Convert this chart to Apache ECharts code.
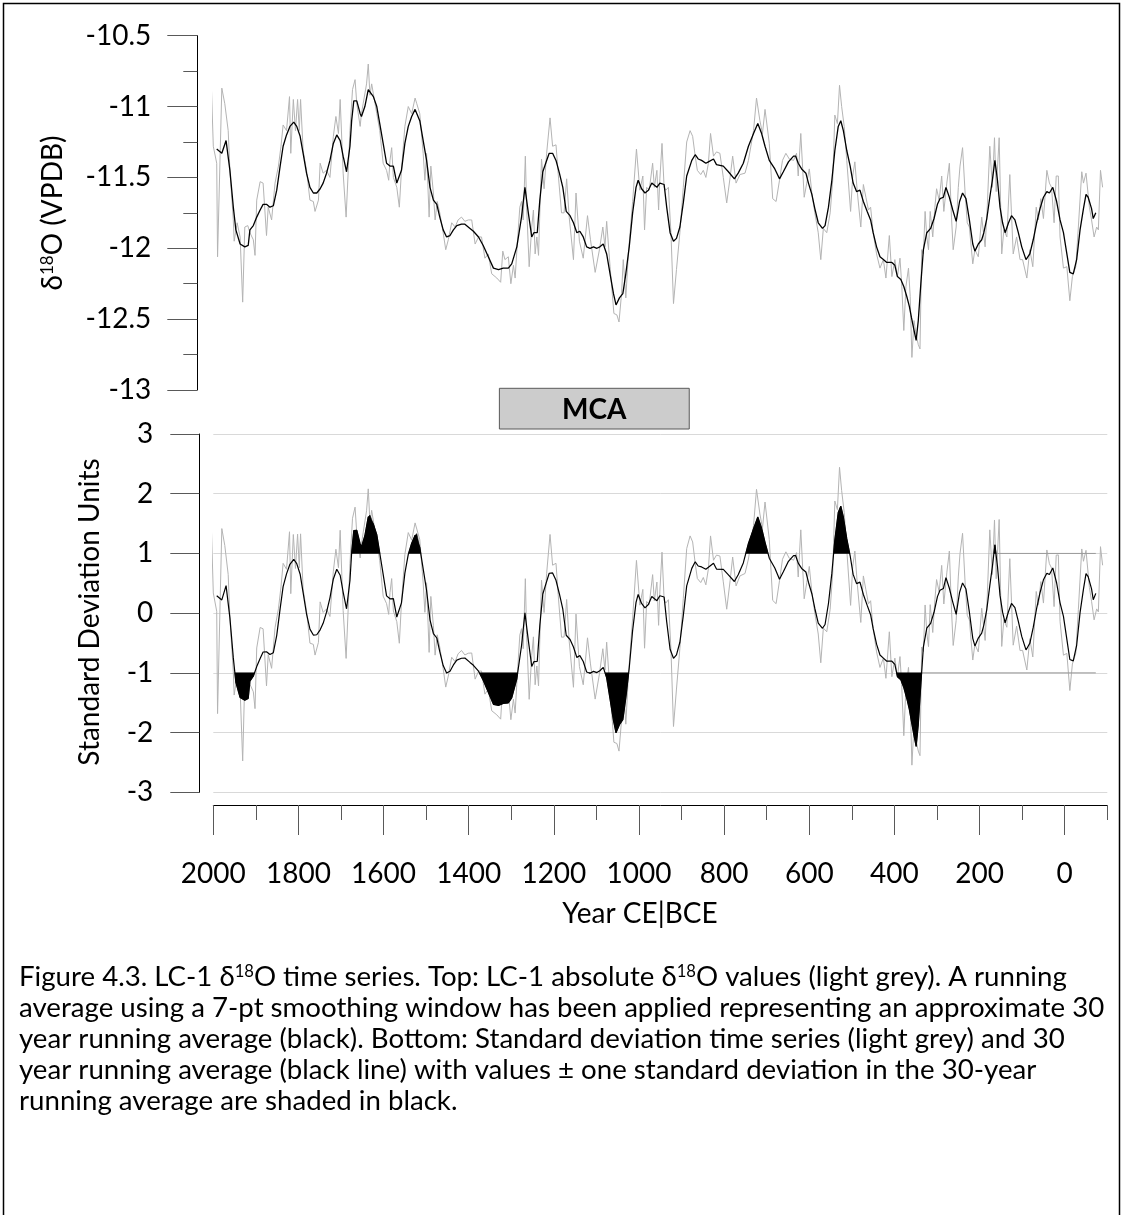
<!DOCTYPE html>
<html>
<head>
<meta charset="utf-8">
<title>LC-1 δ18O time series</title>
<script src="https://cdn.jsdelivr.net/npm/echarts@6/dist/echarts.min.js"></script>
<style>
  html, body { margin: 0; padding: 0; background: #fff; }
  #chart { width: 1123px; height: 1215px; }
</style>
</head>
<body>
<div id="chart"></div>
<script>
// 30-year running average of LC-1 δ18O (‰ VPDB), by year CE (negative = BCE)
const smoothYears = [
  1992,1980,1970,1961,1953,1947,1937,1926,1918,1914,
  1906,1898,1890,1883,1875,1867,1859,1851,1843,1836,
  1828,1820,1811,1804,1796,1789,1781,1773,1765,1757,
  1749,1742,1734,1726,1718,1710,1702,1695,1687,1679,
  1675,1670,1663,1655,1652,1644,1636,1632,1624,1616,
  1609,1601,1593,1585,1577,1569,1565,1558,1550,1542,
  1534,1526,1522,1515,1507,1499,1491,1483,1475,1468,
  1460,1452,1444,1436,1428,1417,1409,1397,1389,1377,
  1366,1354,1342,1330,1319,1307,1299,1287,1276,1268,
  1260,1252,1247,1239,1233,1226,1218,1211,1203,1195,
  1187,1179,1171,1162,1154,1146,1139,1131,1123,1115,
  1107,1099,1092,1084,1076,1068,1060,1054,1046,1038,
  1031,1023,1015,1007,1002,994,986,978,970,958,
  951,941,935,927,919,912,904,896,888,876,
  868,861,853,843,837,825,818,802,790,776,
  767,755,743,731,721,712,704,694,681,670,
  661,649,637,632,626,618,608,602,594,587,
  579,569,563,555,547,540,532,526,520,512,
  504,497,489,481,473,464,456,450,442,434,
  426,418,406,399,393,385,378,371,365,360,
  356,349,344,338,332,324,315,307,299,293,
  285,279,271,263,255,247,240,232,224,216,
  211,203,195,190,183,176,170,164,158,152,
  146,140,132,125,117,109,101,91,82,74,
  66,58,50,42,36,28,19,11,3,-5,
  -12,-20,-28,-36,-44,-50,-55,-63,-67,-73
];
const smoothValues = [
  -11.30,-11.33,-11.24,-11.45,-11.71,-11.87,-11.97,-11.99,-11.98,-11.87,
  -11.84,-11.78,-11.73,-11.69,-11.69,-11.71,-11.70,-11.59,-11.42,-11.28,
  -11.20,-11.14,-11.11,-11.14,-11.21,-11.33,-11.47,-11.57,-11.61,-11.61,
  -11.58,-11.54,-11.47,-11.38,-11.26,-11.20,-11.24,-11.35,-11.46,-11.28,
  -11.10,-10.96,-10.96,-11.05,-11.07,-11.00,-10.88,-10.87,-10.93,-11.00,
  -11.12,-11.26,-11.40,-11.42,-11.42,-11.54,-11.55,-11.45,-11.26,-11.14,
  -11.07,-11.02,-11.01,-11.10,-11.24,-11.38,-11.57,-11.66,-11.69,-11.78,
  -11.87,-11.92,-11.91,-11.87,-11.84,-11.83,-11.83,-11.86,-11.88,-11.92,
  -11.98,-12.06,-12.14,-12.15,-12.14,-12.14,-12.11,-11.99,-11.78,-11.57,
  -11.75,-11.92,-11.89,-11.89,-11.66,-11.46,-11.39,-11.33,-11.33,-11.38,
  -11.47,-11.57,-11.74,-11.77,-11.82,-11.89,-11.88,-11.92,-11.99,-12.00,
  -11.99,-12.00,-11.99,-11.97,-12.04,-12.18,-12.32,-12.40,-12.35,-12.32,
  -12.18,-11.99,-11.75,-11.57,-11.52,-11.58,-11.61,-11.59,-11.54,-11.57,
  -11.54,-11.55,-11.71,-11.89,-11.95,-11.93,-11.85,-11.68,-11.49,-11.38,
  -11.34,-11.37,-11.38,-11.40,-11.39,-11.37,-11.41,-11.42,-11.46,-11.51,
  -11.47,-11.40,-11.28,-11.19,-11.12,-11.19,-11.28,-11.38,-11.44,-11.51,
  -11.46,-11.39,-11.35,-11.35,-11.40,-11.44,-11.47,-11.54,-11.62,-11.72,
  -11.82,-11.86,-11.84,-11.71,-11.52,-11.31,-11.14,-11.10,-11.17,-11.31,
  -11.42,-11.54,-11.60,-11.59,-11.67,-11.74,-11.80,-11.89,-11.99,-12.06,
  -12.08,-12.10,-12.10,-12.12,-12.20,-12.22,-12.27,-12.34,-12.41,-12.49,
  -12.55,-12.65,-12.51,-12.25,-12.01,-11.89,-11.86,-11.79,-11.69,-11.65,
  -11.64,-11.57,-11.64,-11.73,-11.81,-11.67,-11.61,-11.65,-11.80,-11.97,
  -12.02,-11.97,-11.94,-11.89,-11.79,-11.64,-11.52,-11.38,-11.52,-11.71,
  -11.82,-11.89,-11.82,-11.77,-11.80,-11.89,-11.99,-12.08,-12.04,-11.94,
  -11.82,-11.72,-11.64,-11.60,-11.61,-11.57,-11.67,-11.80,-11.89,-12.04,
  -12.17,-12.18,-12.08,-11.87,-11.72,-11.62,-11.64,-11.72,-11.79,-11.75
];

// Individual LC-1 δ18O measurements (‰ VPDB)
const rawYears = [
  2005,2000,1992,1990,1980,1973,1965,1961,1953,1951,
  1944,1937,1931,1926,1919,1914,1906,1902,1898,1890,
  1883,1875,1871,1863,1855,1847,1841,1836,1828,1821,
  1818,1812,1807,1802,1798,1795,1789,1781,1773,1765,
  1761,1753,1749,1742,1734,1726,1718,1712,1706,1702,
  1695,1688,1683,1679,1673,1667,1663,1655,1652,1648,
  1640,1636,1632,1628,1624,1616,1609,1601,1593,1588,
  1585,1581,1577,1569,1563,1558,1550,1542,1534,1526,
  1522,1515,1507,1503,1499,1493,1489,1483,1479,1474,
  1468,1460,1454,1448,1440,1432,1425,1417,1409,1401,
  1393,1385,1377,1370,1362,1354,1346,1334,1325,1320,
  1315,1307,1301,1295,1291,1286,1280,1276,1272,1267,
  1264,1258,1252,1248,1244,1240,1236,1233,1229,1223,
  1217,1209,1203,1195,1190,1182,1176,1170,1164,1154,
  1148,1140,1131,1121,1114,1103,1093,1085,1080,1076,
  1068,1059,1052,1047,1041,1037,1031,1025,1015,1006,
  998,991,987,982,976,968,964,958,954,951,
  946,941,937,931,925,919,912,904,896,888,
  880,874,868,863,855,849,843,837,832,825,
  818,810,802,794,786,780,772,763,751,743,
  731,724,716,710,704,700,694,686,678,670,
  663,655,647,637,630,626,620,612,606,600,
  594,587,579,573,567,559,551,545,540,534,
  529,524,518,512,503,498,493,487,479,473,
  467,461,456,450,442,434,426,420,412,406,
  399,393,387,383,378,373,367,363,359,354,
  349,344,340,336,332,328,324,320,316,310,
  305,301,295,289,284,277,271,266,262,255,
  250,246,240,234,229,224,216,211,203,195,
  187,182,176,170,165,161,154,148,143,136,
  129,121,113,105,99,89,82,75,67,62,
  56,50,42,36,31,25,20,15,11,3,
  -5,-12,-18,-26,-32,-40,-44,-50,-58,-63,
  -69,-75,-79,-84,-89
];
const rawValues = [
  -10.81,-11.28,-11.40,-12.06,-10.87,-10.98,-11.17,-11.45,-11.80,-11.95,
  -11.82,-11.92,-12.38,-11.85,-11.84,-11.89,-11.94,-12.05,-11.66,-11.53,
  -11.54,-11.91,-11.71,-11.80,-11.54,-11.42,-11.28,-11.13,-11.17,-10.93,
  -11.33,-10.95,-11.17,-10.95,-11.17,-10.95,-11.31,-11.45,-11.66,-11.67,
  -11.74,-11.66,-11.40,-11.47,-11.45,-11.50,-11.21,-11.07,-11.19,-10.95,
  -11.47,-11.78,-11.45,-11.17,-10.88,-10.81,-10.98,-11.14,-11.05,-10.98,
  -10.84,-10.70,-10.92,-10.84,-10.91,-11.05,-11.17,-11.40,-11.45,-11.52,
  -11.38,-11.29,-11.50,-11.57,-11.71,-11.45,-11.14,-11.00,-11.05,-10.94,
  -10.98,-11.05,-11.33,-11.52,-11.33,-11.78,-11.42,-11.61,-11.80,-11.67,
  -11.75,-11.89,-12.01,-11.94,-11.82,-11.85,-11.80,-11.78,-11.81,-11.80,
  -11.80,-11.97,-11.92,-11.92,-12.07,-12.04,-12.18,-12.21,-12.24,-12.02,
  -12.08,-12.06,-12.25,-12.12,-12.21,-11.97,-11.71,-11.67,-11.80,-11.35,
  -11.71,-12.13,-11.85,-11.73,-12.04,-11.92,-12.05,-11.75,-11.37,-11.58,
  -11.33,-11.08,-11.28,-11.27,-11.47,-11.75,-11.75,-11.51,-11.78,-12.08,
  -11.61,-11.95,-12.07,-11.77,-11.94,-12.17,-12.01,-11.85,-11.99,-11.81,
  -12.13,-12.46,-12.47,-12.52,-12.32,-12.08,-12.35,-12.04,-11.67,-11.30,
  -11.59,-11.49,-11.87,-11.57,-11.59,-11.40,-11.57,-11.45,-11.73,-11.51,
  -11.26,-11.57,-11.59,-11.57,-11.89,-12.39,-12.15,-11.89,-11.57,-11.25,
  -11.17,-11.21,-11.35,-11.45,-11.48,-11.45,-11.50,-11.40,-11.19,-11.35,
  -11.32,-11.33,-11.50,-11.68,-11.50,-11.35,-11.54,-11.48,-11.47,-11.38,
  -11.17,-10.94,-11.10,-11.19,-11.02,-11.01,-11.26,-11.65,-11.67,-11.52,
  -11.38,-11.33,-11.37,-11.38,-11.33,-11.49,-11.19,-11.64,-11.54,-11.44,
  -11.61,-11.75,-11.89,-12.08,-11.86,-11.89,-11.75,-11.52,-11.06,-11.12,
  -10.85,-11.00,-11.14,-11.38,-11.74,-11.49,-11.39,-11.61,-11.85,-11.55,
  -11.64,-11.73,-11.71,-11.89,-12.04,-12.14,-12.08,-12.21,-11.91,-12.20,
  -12.08,-12.20,-12.07,-12.25,-12.58,-12.27,-12.14,-12.34,-12.77,-12.51,
  -12.61,-12.68,-12.71,-12.01,-12.04,-11.74,-11.92,-12.01,-11.74,-11.92,
  -11.71,-11.58,-11.66,-11.49,-11.74,-11.54,-11.40,-11.78,-12.01,-11.85,
  -11.57,-11.42,-11.29,-11.61,-11.82,-11.85,-12.11,-12.01,-12.06,-11.78,
  -11.99,-11.71,-11.28,-11.57,-11.22,-11.60,-11.22,-12.04,-11.87,-11.92,
  -11.48,-12.04,-11.92,-12.08,-12.08,-12.21,-12.01,-12.13,-11.71,-11.80,
  -11.65,-11.79,-11.45,-11.54,-11.57,-11.82,-11.49,-11.49,-11.92,-12.14,
  -12.13,-12.37,-12.20,-12.13,-11.85,-11.46,-11.54,-11.47,-11.71,-11.80,
  -11.92,-11.85,-11.87,-11.45,-11.57
];

// Long-term reference level of the record and the size of one standard deviation,
// used to express the record in standard deviation units
const trendYears  = [2000, 1800, 1600, 1350, 1050, 870, 720, 630, 530, 350, 200, 0, -100];
const trendValues = [-11.41, -11.46, -11.51, -11.55, -11.63, -11.67, -11.74, -11.72, -11.79, -11.79, -11.81, -11.87, -11.88];
const sdUnit = 0.385;

// Axis ticks and labels
const yearLabelValues = [2000, 1800, 1600, 1400, 1200, 1000, 800, 600, 400, 200, 0];
const yearTickValues = [2000, 1900, 1800, 1700, 1600, 1500, 1400, 1300, 1200, 1100, 1000,
                        900, 800, 700, 600, 500, 400, 300, 200, 100, 0, -100];
const sdThresholds = [1, -1];

// Medieval Climate Anomaly bar
const mcaSpan = [1328, 882];
const mcaLabel = 'MCA';

// Texts
const xTitle = 'Year CE|BCE';
const yTitleTop = 'δ{sup|18}O (VPDB)';
const yTitleBottom = 'Standard Deviation Units';
const captionLines = [
  'Figure 4.3. LC-1 δ{sup|18}O time series. Top: LC-1 absolute δ{sup|18}O values (light grey). A running',
  'average using a 7-pt smoothing window has been applied representing an approximate 30',
  'year running average (black). Bottom: Standard deviation time series (light grey) and 30',
  'year running average (black line) with values ± one standard deviation in the 30-year',
  'running average are shaded in black.'
];

const FONT = 'Lato';
const GREY = '#b4b4b4';

function trendAt(year) {
  if (year >= trendYears[0]) return trendValues[0];
  for (let i = 0; i < trendYears.length - 1; i++) {
    const a = trendYears[i], b = trendYears[i + 1];
    if (year <= a && year >= b) {
      const t = (a - year) / (a - b);
      return trendValues[i] + t * (trendValues[i + 1] - trendValues[i]);
    }
  }
  return trendValues[trendValues.length - 1];
}
const toSd = (year, v) => (v - trendAt(year)) / sdUnit;

const smoothPts = smoothYears.map((y, i) => [y, smoothValues[i]]);
const rawPts = rawYears.map((y, i) => [y, rawValues[i]]);
const smoothSd = smoothYears.map((y, i) => [y, +toSd(y, smoothValues[i]).toFixed(3)]);
const rawSd = rawYears.map((y, i) => [y, +toSd(y, rawValues[i]).toFixed(3)]);

// Portions of the running average beyond ±1 SD, closed against the threshold
function excursions(pts, level, above) {
  const out = [];
  const beyond = z => above ? z > level : z < level;
  const cross = (p, q) => {
    const t = (level - p[1]) / (q[1] - p[1]);
    return [p[0] + t * (q[0] - p[0]), level];
  };
  let cur = null;
  for (let i = 0; i < pts.length; i++) {
    if (beyond(pts[i][1])) {
      if (!cur) cur = [i > 0 ? cross(pts[i - 1], pts[i]) : [pts[i][0], level]];
      cur.push(pts[i]);
    } else if (cur) {
      cur.push(cross(pts[i - 1], pts[i]));
      out.push(cur);
      cur = null;
    }
  }
  if (cur) { cur.push([pts[pts.length - 1][0], level]); out.push(cur); }
  return out;
}

function measureFont(text, size, weight) {
  const ctx = document.createElement('canvas').getContext('2d');
  ctx.font = (weight || 'normal') + ' ' + size + 'px ' + FONT;
  return ctx.measureText(text).width;
}
const captionSize = Math.min(29, 24 * 1086 / measureFont(captionLines[1], 24));

const chart = echarts.init(document.getElementById('chart'), null, { renderer: 'canvas' });

const axisLabelStyle = { color: '#000', fontFamily: FONT, fontSize: 28 };
const tickColor = '#595959';

const option = {
  backgroundColor: '#fff',
  animation: false,
  grid: [
    { left: 213.3, right: 15.7, top: 35.7, height: 354.3 },
    { left: 213.3, right: 15.7, top: 434, height: 358.3 }
  ],
  xAxis: [
    { gridIndex: 0, type: 'value', min: -100, max: 2000, inverse: true, show: false,
      axisLine: { onZero: false } },
    {
      gridIndex: 1, type: 'value', position: 'bottom', min: -100, max: 2000, inverse: true, offset: 12.7,
      axisLine: { show: true, onZero: false, lineStyle: { color: '#000', width: 1 } },
      axisTick: { show: true, customValues: yearLabelValues, length: 30, lineStyle: { color: tickColor } },
      axisLabel: Object.assign({ customValues: yearLabelValues, margin: 55, formatter: v => String(v) }, axisLabelStyle),
      splitLine: { show: false }
    },
    {
      gridIndex: 1, type: 'value', position: 'bottom', min: -100, max: 2000, inverse: true, offset: 12.7,
      axisLine: { show: false, onZero: false },
      axisTick: { show: true, customValues: yearTickValues, length: 15, lineStyle: { color: tickColor } },
      axisLabel: { show: false },
      splitLine: { show: false }
    }
  ],
  yAxis: [
    {
      gridIndex: 0, type: 'value', position: 'left', min: -13, max: -10.5, interval: 0.5, offset: 16,
      axisLine: { show: true, onZero: false, lineStyle: { color: '#000', width: 1 } },
      axisTick: { show: true, length: 30, lineStyle: { color: tickColor } },
      minorTick: { show: true, splitNumber: 2, length: 14, lineStyle: { color: tickColor } },
      axisLabel: Object.assign({ margin: 46, padding: [7, 0, 0, 0], formatter: v => String(v) }, axisLabelStyle),
      splitLine: { show: false }
    },
    {
      gridIndex: 1, type: 'value', position: 'left', min: -3, max: 3, interval: 1, offset: 14,
      axisLine: { show: true, onZero: false, lineStyle: { color: '#000', width: 1 } },
      axisTick: { show: true, length: 29, lineStyle: { color: tickColor } },
      axisLabel: Object.assign({ margin: 46, padding: [3, 0, 0, 0], formatter: v => String(v) }, axisLabelStyle),
      splitLine: { show: true, lineStyle: { color: '#d9d9d9', width: 1 } }
    }
  ],
  series: [
    {
      name: 'δ18O', type: 'line', xAxisIndex: 0, yAxisIndex: 0, data: rawPts,
      showSymbol: false, clip: false, lineStyle: { color: GREY, width: 1 }, z: 2
    },
    {
      name: 'δ18O running average', type: 'line', xAxisIndex: 0, yAxisIndex: 0, data: smoothPts,
      showSymbol: false, clip: false, lineStyle: { color: '#000', width: 1.3 }, z: 4
    },
    {
      name: 'SD', type: 'line', xAxisIndex: 1, yAxisIndex: 1, data: rawSd,
      showSymbol: false, clip: false, lineStyle: { color: GREY, width: 1 }, z: 2
    },
    {
      name: 'SD excursions', type: 'custom', xAxisIndex: 1, yAxisIndex: 1,
      data: [[1000, 0]], clip: false, z: 3, silent: true,
      renderItem: function (params, api) {
        const children = [];
        sdThresholds.forEach(level => {
          const shapes = excursions(smoothSd, level, level > 0);
          shapes.forEach(poly => {
            children.push({
              type: 'polygon',
              shape: { points: poly.map(p => api.coord(p)) },
              style: { fill: '#000', stroke: '#000', lineWidth: 0.6 }
            });
          });
          if (shapes.length) {
            const lastShape = shapes[shapes.length - 1];
            const start = api.coord(lastShape[lastShape.length - 1]);
            const end = api.coord([smoothSd[smoothSd.length - 1][0], level]);
            children.push({
              type: 'line',
              shape: { x1: start[0], y1: start[1], x2: end[0], y2: end[1] },
              style: { stroke: '#9a9a9a', lineWidth: 1 }
            });
          }
        });
        return { type: 'group', children: children };
      }
    },
    {
      name: 'SD running average', type: 'line', xAxisIndex: 1, yAxisIndex: 1, data: smoothSd,
      showSymbol: false, clip: false, lineStyle: { color: '#000', width: 1.2 }, z: 4
    },
    {
      name: mcaLabel, type: 'custom', xAxisIndex: 1, yAxisIndex: 1,
      data: [[1000, 0]], clip: false, z: 5, silent: true,
      renderItem: function (params, api) {
        const l = api.coord([mcaSpan[0], 3]);
        const r = api.coord([mcaSpan[1], 3]);
        const top = l[1] - 45.7, h = 40.7;
        return {
          type: 'group',
          children: [
            { type: 'rect', shape: { x: l[0], y: top, width: r[0] - l[0], height: h },
              style: { fill: '#cccccc', stroke: '#595959', lineWidth: 1 } },
            { type: 'text', x: (l[0] + r[0]) / 2, y: top + h / 2 + 1.5,
              style: { text: mcaLabel, fill: '#000', fontFamily: FONT, fontWeight: 'bold', fontSize: 28,
                       align: 'center', verticalAlign: 'middle' } }
          ]
        };
      }
    }
  ],
  graphic: [
    { type: 'rect', shape: { x: 3.5, y: 3.5, width: 1116, height: 1230 },
      style: { fill: null, stroke: '#000', lineWidth: 1.5 }, silent: true },
    { type: 'text', x: 53, y: 213, rotation: Math.PI / 2,
      style: { text: yTitleTop, fill: '#000', fontFamily: FONT, fontSize: 28, align: 'center', verticalAlign: 'middle',
               rich: { sup: { fontFamily: FONT, fontSize: 17, verticalAlign: 'top', fill: '#000' } } } },
    { type: 'text', x: 90, y: 612, rotation: Math.PI / 2,
      style: { text: yTitleBottom, fill: '#000', fontFamily: FONT, fontSize: 28, align: 'center', verticalAlign: 'middle' } },
    { type: 'text', x: 640, y: 914,
      style: { text: xTitle, fill: '#000', fontFamily: FONT, fontSize: 28, align: 'center', verticalAlign: 'middle' } }
  ].concat(captionLines.map((line, i) => ({
    type: 'text', x: 19, y: 977 + i * 31,
    style: { text: line, fill: '#000', fontFamily: FONT, fontSize: captionSize, align: 'left', verticalAlign: 'middle',
             rich: { sup: { fontFamily: FONT, fontSize: captionSize * 0.6, verticalAlign: 'top', fill: '#000' } } }
  })))
};

chart.setOption(option);
</script>
</body>
</html>
